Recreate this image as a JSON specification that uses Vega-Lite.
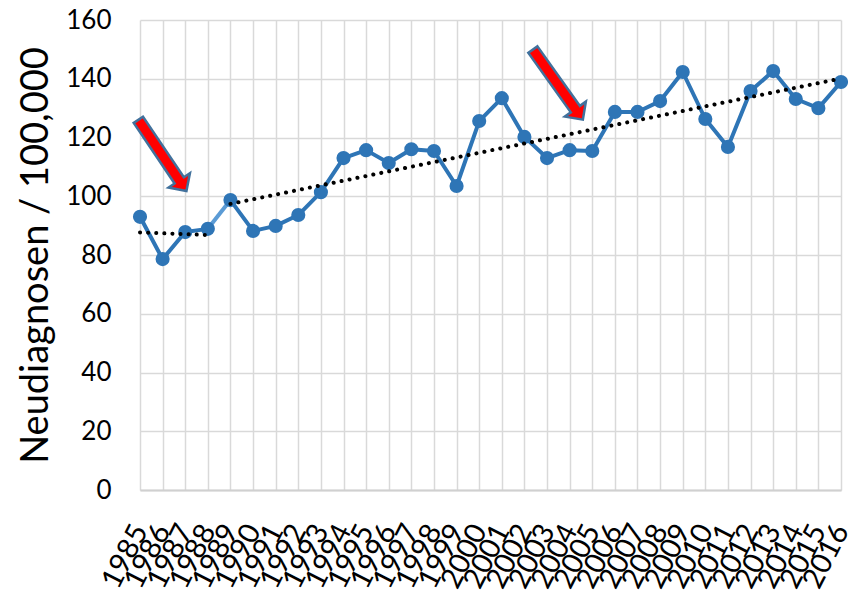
{
  "$schema": "https://vega.github.io/schema/vega-lite/v6.json",
  "width": 701,
  "height": 470,
  "autosize": {"type": "none"},
  "padding": {"left": 140, "top": 20, "right": 7, "bottom": 102},
  "background": "white",
  "config": {
    "view": {"stroke": null},
    "font": "Lato",
    "axis": {"labelFont": "Lato", "titleFont": "Lato", "labelColor": "#000000", "titleColor": "#000000"}
  },
  "datasets": {
    "obs": [
      {"year": 1985, "value": 93, "seg": "a"},
      {"year": 1986, "value": 78.6, "seg": "a"},
      {"year": 1987, "value": 87.8, "seg": "a"},
      {"year": 1988, "value": 88.9, "seg": "a"},
      {"year": 1989, "value": 98.7, "seg": "b"},
      {"year": 1990, "value": 88.2, "seg": "b"},
      {"year": 1991, "value": 89.9, "seg": "b"},
      {"year": 1992, "value": 93.6, "seg": "b"},
      {"year": 1993, "value": 101.4, "seg": "b"},
      {"year": 1994, "value": 113, "seg": "b"},
      {"year": 1995, "value": 115.7, "seg": "b"},
      {"year": 1996, "value": 111.3, "seg": "b"},
      {"year": 1997, "value": 116, "seg": "b"},
      {"year": 1998, "value": 115.4, "seg": "b"},
      {"year": 1999, "value": 103.5, "seg": "b"},
      {"year": 2000, "value": 125.6, "seg": "b"},
      {"year": 2001, "value": 133.4, "seg": "b"},
      {"year": 2002, "value": 120.2, "seg": "b"},
      {"year": 2003, "value": 113, "seg": "b"},
      {"year": 2004, "value": 115.7, "seg": "b"},
      {"year": 2005, "value": 115.4, "seg": "b"},
      {"year": 2006, "value": 128.7, "seg": "b"},
      {"year": 2007, "value": 128.7, "seg": "b"},
      {"year": 2008, "value": 132.4, "seg": "b"},
      {"year": 2009, "value": 142.3, "seg": "b"},
      {"year": 2010, "value": 126.3, "seg": "b"},
      {"year": 2011, "value": 116.8, "seg": "b"},
      {"year": 2012, "value": 135.8, "seg": "b"},
      {"year": 2013, "value": 142.6, "seg": "b"},
      {"year": 2014, "value": 133.1, "seg": "b"},
      {"year": 2015, "value": 130, "seg": "b"},
      {"year": 2016, "value": 138.9, "seg": "b"}
    ],
    "bridge": [
      {"year": 1988, "value": 88.9},
      {"year": 1989, "value": 98.7}
    ],
    "trend": [
      {"year": 1985, "value": 87.7, "seg": "t1"},
      {"year": 1988, "value": 86.8, "seg": "t1"},
      {"year": 1989, "value": 97.4, "seg": "t2"},
      {"year": 2016, "value": 140.1, "seg": "t2"}
    ],
    "arrows": [
      {"year": 1985.99, "value": 113.9, "angle": 56},
      {"year": 2003.48, "value": 138.0, "angle": 54.5}
    ]
  },
  "encoding": {
    "x": {
      "field": "year",
      "type": "quantitative",
      "scale": {"domain": [1985, 2016], "nice": false, "zero": false},
      "axis": {
        "title": null,
        "values": [1985,1986,1987,1988,1989,1990,1991,1992,1993,1994,1995,1996,1997,1998,1999,2000,2001,2002,2003,2004,2005,2006,2007,2008,2009,2010,2011,2012,2013,2014,2015,2016],
        "format": "d",
        "labelAngle": -63,
        "labelAlign": "right",
        "labelBaseline": "middle",
        "labelFontSize": 29,
        "labelOverlap": false,
        "labelFlush": false,
        "labelPadding": 36,
        "grid": true,
        "gridColor": "#d9d9d9",
        "gridWidth": 1.5,
        "domain": true,
        "domainColor": "#d0d0d0",
        "domainWidth": 2,
        "ticks": false,
        "tickSize": 0
      }
    },
    "y": {
      "field": "value",
      "type": "quantitative",
      "scale": {"domain": [0, 160], "nice": false},
      "axis": {
        "title": "Neudiagnosen  / 100,000",
        "titleFontSize": 38,
        "titleFontWeight": "normal",
        "titlePadding": 10,
        "values": [0, 20, 40, 60, 80, 100, 120, 140, 160],
        "labelFontSize": 26,
        "labelPadding": 29,
        "grid": true,
        "gridColor": "#d9d9d9",
        "gridWidth": 1.5,
        "domain": false,
        "ticks": false,
        "tickSize": 0
      }
    }
  },
  "layer": [
    {
      "data": {"name": "bridge"},
      "mark": {"type": "line", "color": "#5b9bd5", "strokeWidth": 4},
      "encoding": {}
    },
    {
      "data": {"name": "obs"},
      "mark": {"type": "line", "color": "#2e75b6", "strokeWidth": 4, "strokeJoin": "round"},
      "encoding": {"detail": {"field": "seg"}}
    },
    {
      "data": {"name": "obs"},
      "mark": {"type": "point", "shape": "circle", "filled": true, "color": "#2e75b6", "opacity": 1, "size": 200},
      "encoding": {}
    },
    {
      "data": {"name": "trend"},
      "mark": {"type": "line", "color": "#000000", "strokeWidth": 4, "strokeDash": [0.1, 8], "strokeCap": "round"},
      "encoding": {"detail": {"field": "seg"}}
    },
    {
      "data": {"name": "arrows"},
      "mark": {
        "type": "point",
        "shape": "M -1,-0.13 L 0.7,-0.13 L 0.7,-0.3 L 1,0 L 0.7,0.3 L 0.7,0.13 L -1,0.13 Z",
        "filled": true,
        "fill": "#ff0000",
        "stroke": "#41719c",
        "strokeWidth": 2.5,
        "opacity": 1,
        "fillOpacity": 1,
        "strokeOpacity": 1,
        "size": 7400
      },
      "encoding": {"angle": {"field": "angle", "type": "quantitative", "scale": null}}
    }
  ]
}
